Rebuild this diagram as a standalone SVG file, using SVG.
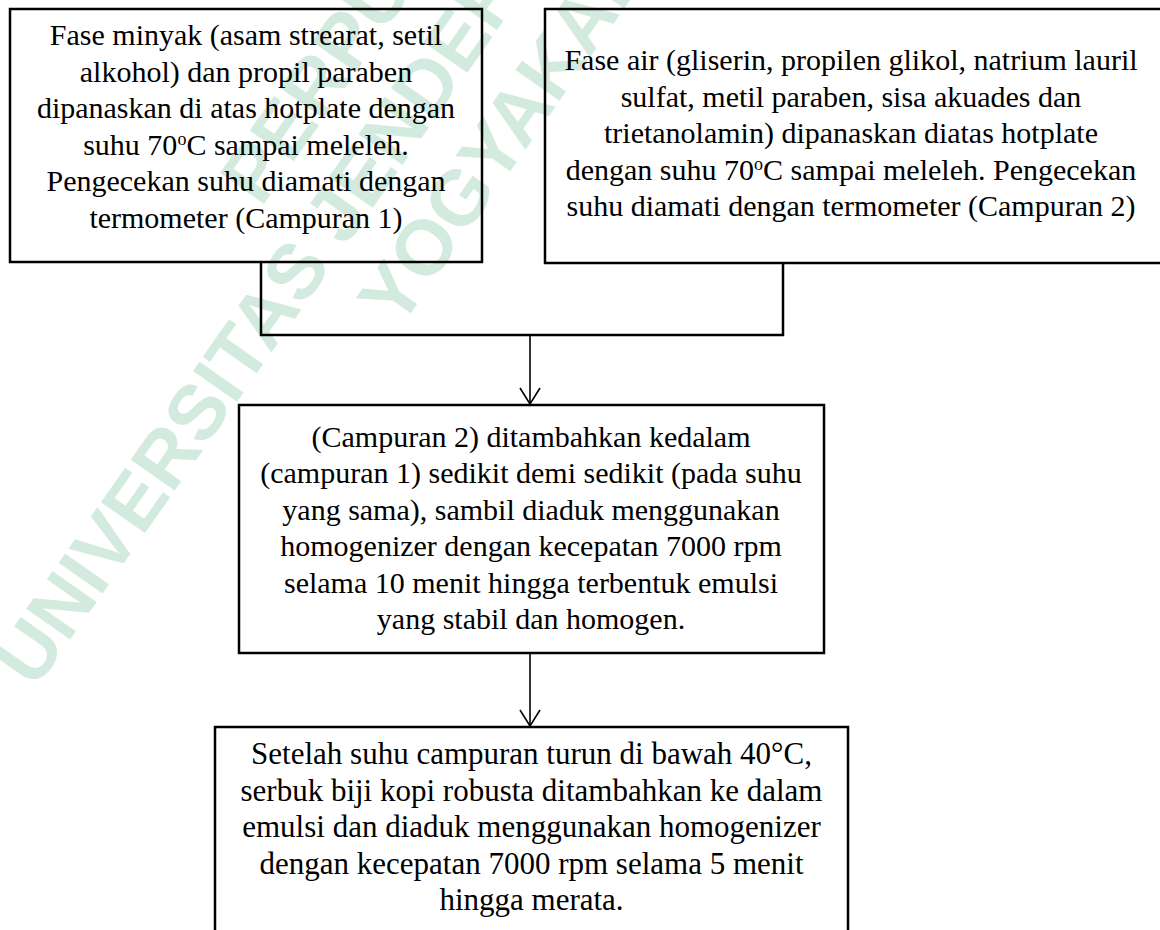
<svg xmlns="http://www.w3.org/2000/svg" width="1160" height="930" viewBox="0 0 1160 930">
<style>
.box{fill:none;stroke:#000;stroke-width:2.5}
.t{font-family:"Liberation Serif","Times New Roman",serif;font-size:30px;fill:#000;text-anchor:middle}
.t4{font-size:31px}
.wm{font-family:"Liberation Sans",Arial,sans-serif;font-weight:bold;font-size:78px;fill:#d3ebde}
.conn{fill:none;stroke:#000;stroke-width:2.5}
.arr{fill:none;stroke:#000;stroke-width:1.6}
</style>
<defs>
<marker id="v" markerUnits="userSpaceOnUse" markerWidth="20" markerHeight="24" refX="17" refY="11" orient="auto" viewBox="0 0 20 24">
<polyline points="1,1 17,11 1,21" fill="none" stroke="#000" stroke-width="1.6"/>
</marker>
</defs>
<rect width="1160" height="930" fill="#fff"/>
<g id="watermark">
<text class="wm" transform="translate(261,208) rotate(-55)">PERPUSTAKAAN</text>
<text class="wm" transform="translate(35,690) rotate(-55)">UNIVERSITAS JENDERAL</text>
<text class="wm" transform="translate(399,330) rotate(-55)">YOGYAKARTA</text>
</g>
<g id="connectors">
<polyline class="conn" points="261,262 261,335 783,335 783,263"/>
<line class="arr" x1="530" y1="335" x2="530" y2="404" marker-end="url(#v)"/>
<line class="arr" x1="530" y1="653" x2="530" y2="726" marker-end="url(#v)"/>
</g>
<g id="node1">
<rect class="box" x="10" y="9" width="472" height="253"/>
<text class="t" x="246" y="45">Fase minyak (asam strearat, setil</text>
<text class="t" x="246" y="81.5">alkohol) dan propil paraben</text>
<text class="t" x="246" y="118">dipanaskan di atas hotplate dengan</text>
<text class="t" x="246" y="154.5">suhu 70<tspan baseline-shift="super" font-size="18">o</tspan>C sampai meleleh.</text>
<text class="t" x="246" y="191">Pengecekan suhu diamati dengan</text>
<text class="t" x="246" y="227.5">termometer (Campuran 1)</text>
</g>
<g id="node2">
<rect class="box" x="545" y="9" width="618" height="254"/>
<text class="t" x="851" y="70">Fase air (gliserin, propilen glikol, natrium lauril</text>
<text class="t" x="851" y="106.5">sulfat, metil paraben, sisa akuades dan</text>
<text class="t" x="851" y="143">trietanolamin) dipanaskan diatas hotplate</text>
<text class="t" x="851" y="179.5">dengan suhu 70<tspan baseline-shift="super" font-size="18">o</tspan>C sampai meleleh. Pengecekan</text>
<text class="t" x="851" y="216">suhu diamati dengan termometer (Campuran 2)</text>
</g>
<g id="node3">
<rect class="box" x="239" y="405" width="585" height="248"/>
<text class="t" x="531" y="447">(Campuran 2) ditambahkan kedalam</text>
<text class="t" x="531" y="483.4">(campuran 1) sedikit demi sedikit (pada suhu</text>
<text class="t" x="531" y="519.8">yang sama), sambil diaduk menggunakan</text>
<text class="t" x="531" y="556.2">homogenizer dengan kecepatan 7000 rpm</text>
<text class="t" x="531" y="592.6">selama 10 menit hingga terbentuk emulsi</text>
<text class="t" x="531" y="629">yang stabil dan homogen.</text>
</g>
<g id="node4">
<rect class="box" x="215" y="727" width="633" height="240"/>
<text class="t t4" x="531.5" y="764">Setelah suhu campuran turun di bawah 40°C,</text>
<text class="t t4" x="531.5" y="800.5">serbuk biji kopi robusta ditambahkan ke dalam</text>
<text class="t t4" x="531.5" y="837">emulsi dan diaduk menggunakan homogenizer</text>
<text class="t t4" x="531.5" y="873.5">dengan kecepatan 7000 rpm selama 5 menit</text>
<text class="t t4" x="531.5" y="910">hingga merata.</text>
</g>
</svg>
